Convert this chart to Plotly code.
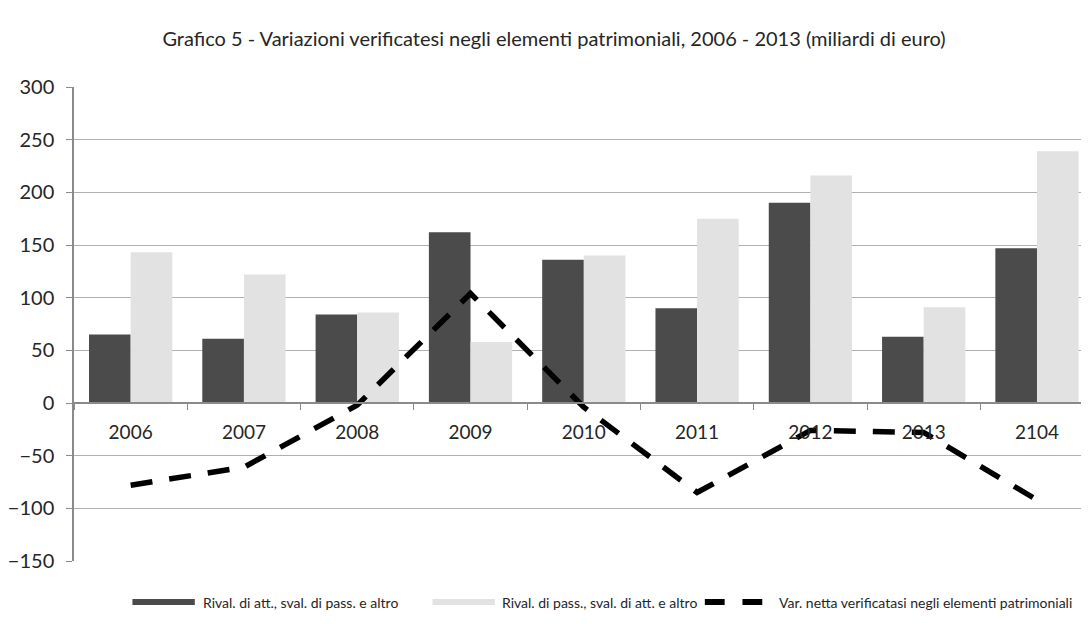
import plotly.graph_objects as go

# Data (miliardi di euro)
years = ["2006", "2007", "2008", "2009", "2010", "2011", "2012", "2013", "2104"]
rival_att = [65, 61, 84, 162, 136, 90, 190, 63, 147]
rival_pass = [143, 122, 86, 58, 140, 175, 216, 91, 239]
var_netta = [-78, -61, -2, 104, -4, -85, -26, -28, -92]

names = [
    "Rival. di att., sval. di pass. e altro",
    "Rival. di pass., sval. di att. e altro",
    "Var. netta verificatasi negli elementi patrimoniali",
]

DARK = "#4b4b4b"
LIGHT = "#e2e2e2"
FONT = "Lato"
Y_RANGE = [-150, 300]

W, H = 1089, 626
ML, MR, MT, MB = 56, 0, 79, 73
PW, PH = W - ML - MR, H - MT - MB


def px_x(px):
    return (px - ML) / PW


def px_y(py):
    return (H - MB - py) / PH


fig = go.Figure()
fig.add_trace(go.Bar(x=years, y=rival_att, name=names[0], marker={"color": DARK, "line": {"width": 0}}))
fig.add_trace(go.Bar(x=years, y=rival_pass, name=names[1], marker={"color": LIGHT, "line": {"width": 0}}))
fig.add_trace(
    go.Scatter(
        x=years,
        y=var_netta,
        mode="lines",
        name=names[2],
        line={"color": "black", "width": 5.5, "dash": "22px,17px"},
    )
)

# hand-made legend (wide swatches like the original)
leg_y = 594
shapes = [
    dict(type="rect", xref="paper", yref="paper", x0=px_x(115), x1=px_x(178),
         y0=px_y(leg_y + 3), y1=px_y(leg_y - 3), fillcolor=DARK, line={"width": 0}),
    dict(type="rect", xref="paper", yref="paper", x0=px_x(418), x1=px_x(481),
         y0=px_y(leg_y + 3), y1=px_y(leg_y - 3), fillcolor=LIGHT, line={"width": 0}),
    dict(type="line", xref="paper", yref="paper", x0=px_x(693), x1=px_x(713),
         y0=px_y(leg_y), y1=px_y(leg_y), line={"color": "black", "width": 6}),
    dict(type="line", xref="paper", yref="paper", x0=px_x(731), x1=px_x(751),
         y0=px_y(leg_y), y1=px_y(leg_y), line={"color": "black", "width": 6}),
]
annotations = []
for txt, x in zip(names, [184, 486, 766]):
    annotations.append(
        dict(text=txt, xref="paper", yref="paper", x=px_x(x), y=px_y(leg_y),
             xanchor="left", yanchor="middle", showarrow=False,
             font={"size": 14, "color": "#262626", "family": FONT})
    )

fig.update_layout(
    width=W,
    height=H,
    margin={"l": ML, "r": MR, "t": MT, "b": MB},
    paper_bgcolor="white",
    plot_bgcolor="white",
    showlegend=False,
    barmode="group",
    bargap=0.265,
    bargroupgap=0,
    font={"family": FONT, "color": "#262626"},
    title={
        "text": "Grafico 5 - Variazioni verificatesi negli elementi patrimoniali, 2006 - 2013 (miliardi di euro)",
        "x": 546 / W,
        "xanchor": "center",
        "y": 1 - 31 / H,
        "yanchor": "middle",
        "font": {"size": 20, "color": "#262626", "family": FONT},
    },
    xaxis={
        "type": "category",
        "range": [-0.5, -0.5 + PW / 114.4],
        "anchor": "free",
        "position": (0 - Y_RANGE[0]) / (Y_RANGE[1] - Y_RANGE[0]),
        "showline": True,
        "linecolor": "#8a8a8a",
        "linewidth": 1.5,
        "ticks": "outside",
        "tickson": "boundaries",
        "ticklen": 6,
        "tickcolor": "#8a8a8a",
        "showgrid": False,
        "ticklabelstandoff": 12,
        "tickfont": {"size": 19, "color": "#262626"},
    },
    yaxis={
        "range": Y_RANGE,
        "dtick": 50,
        "showgrid": True,
        "gridcolor": "#b0b0b0",
        "gridwidth": 1,
        "zeroline": False,
        "showline": True,
        "linecolor": "#8a8a8a",
        "linewidth": 1.5,
        "ticks": "outside",
        "ticklen": 6,
        "tickcolor": "#8a8a8a",
        "ticklabelstandoff": 8,
        "tickfont": {"size": 20, "color": "#262626"},
    },
    shapes=shapes,
    annotations=annotations,
)

fig.write_html("out.html")
